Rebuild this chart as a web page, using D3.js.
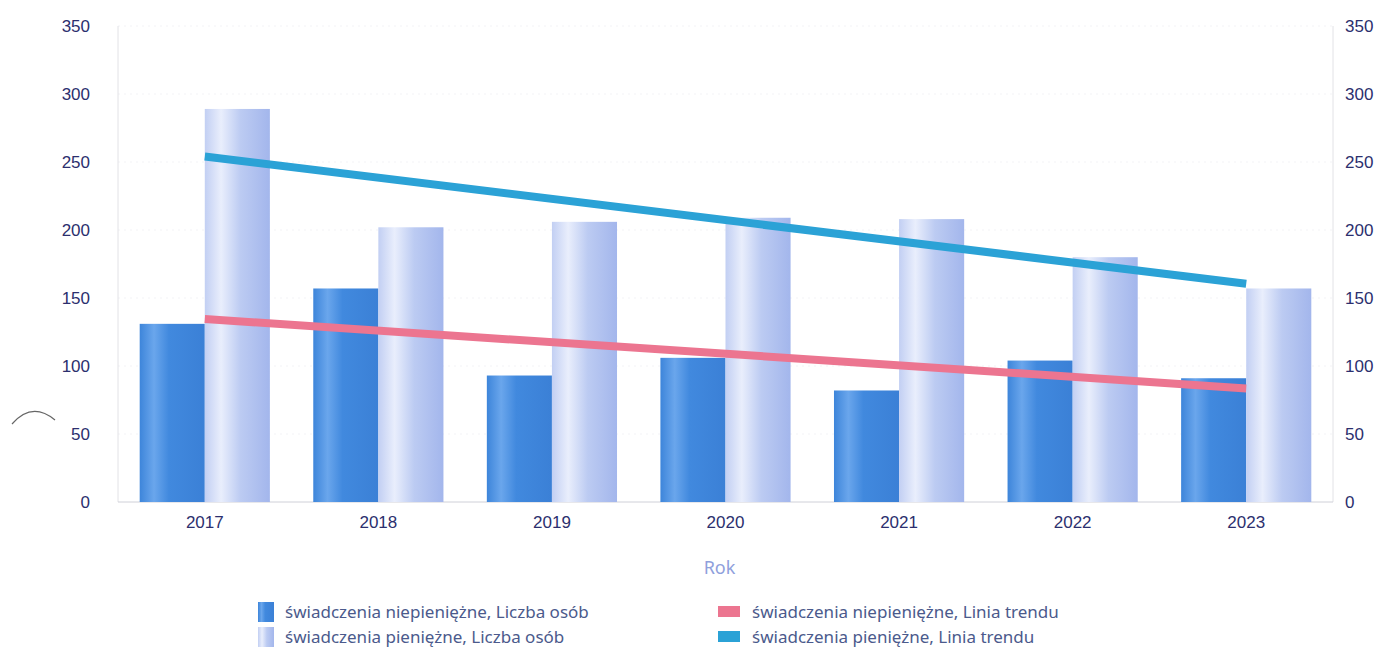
<!DOCTYPE html>
<html>
<head>
<meta charset="utf-8">
<script src="https://cdn.jsdelivr.net/npm/d3@7"></script>
<style>
  body { margin: 0; background: #fff; }
  svg { font-family: "Noto Sans", "DejaVu Sans", sans-serif; }
</style>
</head>
<body>
<svg id="chart" width="1388" height="654"></svg>
<script>
// data
var years = ['2017', '2018', '2019', '2020', '2021', '2022', '2023'];
var niepieniezne = [131, 157, 93, 106, 82, 104, 91];
var pieniezne = [289, 202, 206, 209, 208, 180, 157];
// trend line values at first and last year
var trendNiepieniezne = [134.5, 83.5];
var trendPieniezne = [254, 160.5];
var yTicks = [0, 50, 100, 150, 200, 250, 300, 350];
var legendItems = [
    { label: 'świadczenia niepieniężne, Liczba osób', key: 'dark' },
    { label: 'świadczenia pieniężne, Liczba osób', key: 'light' },
    { label: 'świadczenia niepieniężne, Linia trendu', key: 'pink' },
    { label: 'świadczenia pieniężne, Linia trendu', key: 'cyan' }
];

var svg = d3.select('#chart');
var margin = { top: 26, right: 55, bottom: 152, left: 118 };
var width = 1388 - margin.left - margin.right;
var height = 654 - margin.top - margin.bottom;

var defs = svg.append('defs');
var gDark = defs.append('linearGradient').attr('id', 'gDark');
gDark.append('stop').attr('offset', '0%').attr('stop-color', '#3d85da');
gDark.append('stop').attr('offset', '22%').attr('stop-color', '#6aa6ec');
gDark.append('stop').attr('offset', '45%').attr('stop-color', '#4189de');
gDark.append('stop').attr('offset', '100%').attr('stop-color', '#3b80d6');
var gLight = defs.append('linearGradient').attr('id', 'gLight');
gLight.append('stop').attr('offset', '0%').attr('stop-color', '#c2cff3');
gLight.append('stop').attr('offset', '25%').attr('stop-color', '#e9eefc');
gLight.append('stop').attr('offset', '55%').attr('stop-color', '#bccbf2');
gLight.append('stop').attr('offset', '100%').attr('stop-color', '#a3b6ec');

var g = svg.append('g').attr('transform', 'translate(' + margin.left + ',' + margin.top + ')');

var x = d3.scaleBand().domain(years).range([0, width]).paddingInner(0.25).paddingOuter(0.125);
var y = d3.scaleLinear().domain([0, 350]).range([height, 0]);

// faint grid
g.selectAll('.grid').data(yTicks.slice(1)).enter().append('line')
    .attr('x1', 0).attr('x2', width)
    .attr('y1', function (d) { return y(d); }).attr('y2', function (d) { return y(d); })
    .attr('stroke', '#f3f3f6').attr('stroke-dasharray', '2,4');

// side lines and baseline
g.append('line').attr('x1', 0).attr('x2', 0).attr('y1', 0).attr('y2', height)
    .attr('stroke', '#e2e2e6');
g.append('line').attr('x1', width).attr('x2', width).attr('y1', 0).attr('y2', height)
    .attr('stroke', '#e2e2e6');
g.append('line').attr('x1', 0).attr('x2', width).attr('y1', height).attr('y2', height)
    .attr('stroke', '#cfd0d8');

var bw = x.bandwidth() / 2;

g.selectAll('.bar-dark').data(niepieniezne).enter().append('rect')
    .attr('class', 'bar-dark')
    .attr('x', function (d, i) { return x(years[i]); })
    .attr('y', function (d) { return y(d); })
    .attr('width', bw)
    .attr('height', function (d) { return height - y(d); })
    .attr('fill', 'url(#gDark)');

g.selectAll('.bar-light').data(pieniezne).enter().append('rect')
    .attr('class', 'bar-light')
    .attr('x', function (d, i) { return x(years[i]) + bw; })
    .attr('y', function (d) { return y(d); })
    .attr('width', bw)
    .attr('height', function (d) { return height - y(d); })
    .attr('fill', 'url(#gLight)');

// trend lines from first to last group centre
var ends = [years[0], years[years.length - 1]];
var line = d3.line()
    .x(function (d, i) { return x(ends[i]) + bw; })
    .y(function (d) { return y(d); });

g.append('path').datum(trendPieniezne).attr('d', line)
    .attr('stroke', '#2ba2d6').attr('stroke-width', 8).attr('fill', 'none');
g.append('path').datum(trendNiepieniezne).attr('d', line)
    .attr('stroke', '#ec7590').attr('stroke-width', 8).attr('fill', 'none');

// axes
var leftAxis = g.append('g')
    .call(d3.axisLeft(y).tickValues(yTicks).tickSize(0).tickPadding(28));
var rightAxis = g.append('g').attr('transform', 'translate(' + width + ',0)')
    .call(d3.axisRight(y).tickValues(yTicks).tickSize(0).tickPadding(12));
var bottomAxis = g.append('g').attr('transform', 'translate(0,' + height + ')')
    .call(d3.axisBottom(x).tickSize(0).tickPadding(14));
[leftAxis, rightAxis, bottomAxis].forEach(function (a) {
    a.select('.domain').remove();
    a.selectAll('text').attr('fill', '#2c2f6e').attr('font-size', 17);
});

g.append('text').attr('x', width / 2 - 6).attr('y', height + 72)
    .attr('text-anchor', 'middle').attr('fill', '#8fa0dc').attr('font-size', 18)
    .text('Rok');

// legend
var swatch = { dark: 'url(#gDark)', light: 'url(#gLight)', pink: '#ec7590', cyan: '#2ba2d6' };
var isBar = function (d) { return d.key == 'dark' || d.key == 'light'; };
var legend = svg.append('g').attr('transform', 'translate(258,604)');
var li = legend.selectAll('g').data(legendItems).enter().append('g')
    .attr('transform', function (d, i) {
        return 'translate(' + (i < 2 ? 0 : 460) + ',' + (i % 2) * 25 + ')';
    });
li.append('rect')
    .attr('y', function (d) { return isBar(d) ? -2 : 2; })
    .attr('width', function (d) { return isBar(d) ? 16 : 22; })
    .attr('height', function (d) { return isBar(d) ? 20 : 11; })
    .attr('fill', function (d) { return swatch[d.key]; });
li.append('text')
    .attr('x', function (d) { return isBar(d) ? 27 : 34; })
    .attr('y', 14)
    .attr('fill', '#4b5a8c').attr('font-size', 17)
    .text(function (d) { return d.label; });

// scan mark on the left margin
svg.append('path').attr('d', 'M12,424 Q32,401 55,420')
    .attr('stroke', '#666').attr('stroke-width', 1.2).attr('fill', 'none');
</script>
</body>
</html>
